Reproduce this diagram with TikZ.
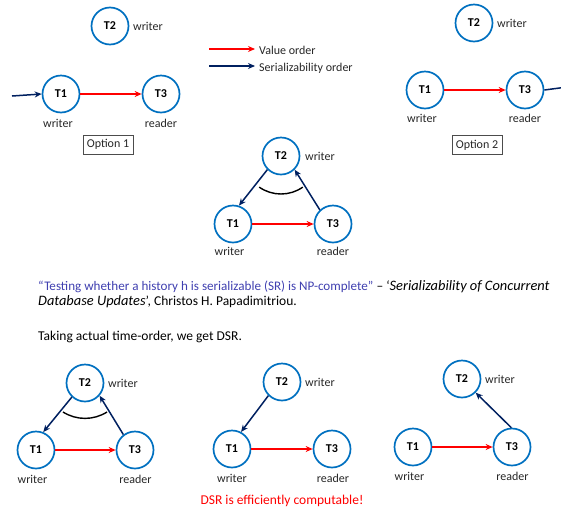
\documentclass[tikz,border=0pt]{standalone}
\usepackage{fontspec}
\setmainfont{Carlito}
\usetikzlibrary{arrows.meta}
\definecolor{circblue}{RGB}{0,112,192}
\definecolor{navy}{RGB}{0,32,96}
\definecolor{quoteblue}{RGB}{64,64,176}
\definecolor{txt}{RGB}{38,38,38}
\tikzset{
  tnode/.style={circle,draw=circblue,line width=1.7pt,minimum size=37pt,inner sep=0pt,font=\fontsize{12}{14}\selectfont\bfseries,text=black},
  lbl/.style={font=\fontsize{12}{14}\selectfont,text=txt,inner sep=0pt},
  wlbl/.style={lbl,anchor=west},
  valarrow/.style={draw=red,line width=1.5pt,-{Stealth[length=7pt,width=6pt]}},
  serarrow/.style={draw=navy,line width=1.5pt,-{Stealth[length=7pt,width=6pt]}},
  optbox/.style={draw=black!70,line width=0.6pt,minimum width=50pt,minimum height=19pt,inner sep=0pt,font=\fontsize{12}{14}\selectfont,text=txt},
  body/.style={font=\fontsize{13.5}{16}\selectfont,anchor=west,inner sep=0pt,text=black},
  arcline/.style={draw=black,line width=1.4pt}
}
\begin{document}
\begin{tikzpicture}[x=1pt,y=-1pt]
\useasboundingbox (0,0) rectangle (561,512);
\clip (0,0) rectangle (561,512);

% ---------- Option 1 ----------
\node[tnode] (a2) at (110,26) {T2};
\node[wlbl] (a2w) at (133,26) {writer};
\node[tnode] (a1) at (61,94) {T1};
\node[tnode] (a3) at (161,94) {T3};
\node[lbl] (a1w) at (58,123) {writer};
\node[lbl] (a3r) at (161,123) {reader};
\coordinate (ain) at (12,96);
\draw[serarrow] (ain) -- (a1.west);
\draw[valarrow] (a1.east) -- (a3.west);
\node[optbox] (opt1) at (108,144.5) {Option 1};

% ---------- Legend ----------
\coordinate (lv1) at (209,49);
\coordinate (lv2) at (255,49);
\coordinate (ls1) at (209,66);
\coordinate (ls2) at (255,66);
\draw[valarrow] (lv1) -- (lv2);
\draw[serarrow] (ls1) -- (ls2);
\node[wlbl] (lvt) at (259,50) {Value order};
\node[wlbl] (lst) at (259,68) {Serializability order};

% ---------- Option 2 ----------
\node[tnode] (b2) at (474,23) {T2};
\node[wlbl] (b2w) at (497,23) {writer};
\node[tnode] (b1) at (425,90) {T1};
\node[tnode] (b3) at (525,90) {T3};
\node[lbl] (b1w) at (422,118) {writer};
\node[lbl] (b3r) at (525,118) {reader};
\draw[valarrow] (b1.east) -- (b3.west);
\coordinate (bout) at (590,84);
\draw[serarrow] (b3.east) -- (bout);
\node[optbox] (opt2) at (477,145) {Option 2};

% ---------- Middle triangle ----------
\node[tnode] (c2) at (281,156) {T2};
\node[wlbl] (c2w) at (305,156) {writer};
\node[tnode] (c1) at (233,224) {T1};
\node[tnode] (c3) at (333,224) {T3};
\node[lbl] (c1w) at (229.5,251) {writer};
\node[lbl] (c3r) at (333,251) {reader};
\draw[serarrow] (c2.225) -- (c1.72);
\draw[serarrow] (c3.133) -- (c2.-45);
\draw[valarrow] (c1.east) -- (c3.west);
\draw[arcline] ([shift={(-21.8,31.1)}]c2.center) .. controls ([shift={(-8.7,40.3)}]c2.center) and ([shift={(8.7,40.3)}]c2.center) .. ([shift={(21.8,31.1)}]c2.center);

% ---------- Text ----------
\node[body] (q1) at (38,287) {{\fontsize{13.1}{16}\selectfont\color{quoteblue}“Testing whether a history h is serializable (SR) is NP-complete”} – ‘{\fontsize{14.4}{16}\selectfont\itshape Serializability of Concurrent}};
\node[body] (q2) at (38,302) {{\fontsize{14.4}{16}\selectfont\itshape Database Updates}’, Christos H. Papadimitriou.};
\node[body] (q3) at (38,337) {Taking actual time-order, we get DSR.};

% ---------- Bottom left ----------
\node[tnode] (d2) at (85,383) {T2};
\node[wlbl] (d2w) at (108,383) {writer};
\node[tnode] (d1) at (36,450) {T1};
\node[tnode] (d3) at (135,450) {T3};
\node[lbl] (d1w) at (32.5,479) {writer};
\node[lbl] (d3r) at (135.5,479) {reader};
\draw[serarrow] (d2.227) -- (d1.68);
\draw[serarrow] (d3.127) -- (d2.-41);
\draw[valarrow] (d1.east) -- (d3.west);
\draw[arcline] ([shift={(-22,29)}]d2.center) .. controls ([shift={(-8.5,37.5)}]d2.center) and ([shift={(8.5,37.5)}]d2.center) .. ([shift={(22,29)}]d2.center);

% ---------- Bottom middle ----------
\node[tnode] (e2) at (282,382) {T2};
\node[wlbl] (e2w) at (305,382) {writer};
\node[tnode] (e1) at (232,449) {T1};
\node[tnode] (e3) at (332,449) {T3};
\node[lbl] (e1w) at (232,478) {writer};
\node[lbl] (e3r) at (333,478) {reader};
\draw[serarrow] (e2.225) -- (e1.62);
\draw[valarrow] (e1.east) -- (e3.west);

% ---------- Bottom right ----------
\node[tnode] (f2) at (462,379) {T2};
\node[wlbl] (f2w) at (485,379) {writer};
\node[tnode] (f1) at (413,447) {T1};
\node[tnode] (f3) at (512,447) {T3};
\node[lbl] (f1w) at (409.5,476) {writer};
\node[lbl] (f3r) at (512.5,476) {reader};
\draw[valarrow] (f1.east) -- (f3.west);
\draw[serarrow] (f3.92) -- (f2.-45);

% ---------- Conclusion ----------
\node[font=\fontsize{13.5}{16}\selectfont,text=red,inner sep=0pt] (dsr) at (282,501) {DSR is efficiently computable!};
\end{tikzpicture}
\end{document}
